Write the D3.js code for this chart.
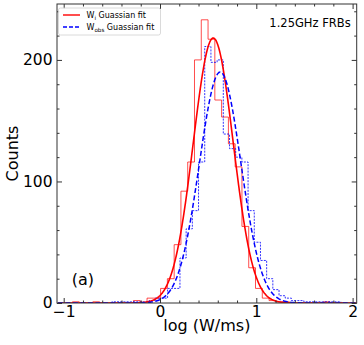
<!DOCTYPE html>
<html>
<head>
<meta charset="utf-8">
<script src="https://cdn.jsdelivr.net/npm/d3@7"></script>
<style>
  body { margin: 0; background: #fff; }
  text { font-family: "DejaVu Sans", sans-serif; fill: #000; }
</style>
</head>
<body>
<svg id="viz" width="364" height="345"></svg>
<script>
// histogram of W_i (red), 40 bins
var redBinStart = -0.909, redBinWidth = 0.0704;
var redCounts = [1, 0, 0, 1, 0, 0, 0, 0, 0, 2,
                 0, 4, 4, 12, 20, 48, 92, 116, 200, 233,
                 217, 167, 153, 131, 112, 63, 29, 12, 4, 2,
                 1, 1, 0, 0, 0, 0, 0, 1, 0, 0];

// histogram of W_obs (blue)
var blueBinStart = -0.5, blueBinWidth = 0.0643;
var blueCounts = [1, 1, 1, 1, 1, 1, 2, 4, 4, 12,
                  12, 37, 61, 76, 116, 211, 198, 200, 139, 127,
                  120, 116, 76, 50, 35, 20, 11, 6, 4, 2,
                  2, 1, 1, 1, 1, 1, 1];

// gaussian fits: [amplitude, mean, sigma]
var redFit = [218, 0.553, 0.207];
var blueFit = [190, 0.625, 0.215];

var xTicks = [-1, 0, 1, 2];
var yTicks = [0, 100, 200];
var legendLabels = [["W", "i", " Guassian fit"], ["W", "obs", " Guassian fit"]];

var svg = d3.select("#viz");
var L = 57, R = 356.7, T = 4, B = 303;

var x = d3.scaleLinear().domain([-1.0696, 2.0426]).range([L, R]);
var y = d3.scaleLinear().domain([0, 246]).range([B, T]);

svg.append("clipPath").attr("id", "clip")
  .append("rect").attr("x", L).attr("y", T).attr("width", R - L).attr("height", B - T);

var plot = svg.append("g").attr("clip-path", "url(#clip)");

function stepPoints(start, width, counts) {
  var pts = [[start, 0]];
  counts.forEach(function(c, i) {
    pts.push([start + i * width, c]);
    pts.push([start + (i + 1) * width, c]);
  });
  pts.push([start + counts.length * width, 0]);
  return pts;
}

function gaussPoints(p) {
  return d3.range(-1.06, 2.04, 0.004).map(function(v) {
    return [v, p[0] * Math.exp(-0.5 * Math.pow((v - p[1]) / p[2], 2))];
  });
}

var line = d3.line().x(function(d) { return x(d[0]); }).y(function(d) { return y(d[1]); });

plot.append("path").datum(stepPoints(redBinStart, redBinWidth, redCounts))
  .attr("d", line).attr("fill", "none")
  .attr("stroke", "#ff0000").attr("stroke-opacity", 0.7).attr("stroke-width", 1);

plot.append("path").datum(stepPoints(blueBinStart, blueBinWidth, blueCounts))
  .attr("d", line).attr("fill", "none")
  .attr("stroke", "#0000ff").attr("stroke-opacity", 0.8).attr("stroke-width", 1)
  .attr("stroke-dasharray", "2,1.2");

plot.append("path").datum(gaussPoints(redFit))
  .attr("d", line).attr("fill", "none")
  .attr("stroke", "#ff0000").attr("stroke-width", 1.6);

plot.append("path").datum(gaussPoints(blueFit))
  .attr("d", line).attr("fill", "none")
  .attr("stroke", "#0000ff").attr("stroke-width", 1.5)
  .attr("stroke-dasharray", "5,2.5");

// axes, ticks inward on all four sides
var xMinor = d3.range(-1, 2.01, 0.2).filter(function(v) { return Math.abs(v - Math.round(v)) > 1e-6; });
var yMinor = d3.range(0, 246, 20).filter(function(v) { return v % 100 !== 0; });

function styleAxis(g) {
  g.select(".domain").remove();
  g.selectAll(".tick line").attr("stroke", "#333");
  g.selectAll("text").style("font-family", "DejaVu Sans").style("font-size", "15.5px").attr("fill", "#000");
}

svg.append("g").attr("transform", "translate(0," + B + ")")
  .call(d3.axisBottom(x).tickValues(xTicks).tickSizeInner(-5).tickPadding(3)
    .tickFormat(function(d) { return d < 0 ? "\u2212" + Math.abs(d) : d; }))
  .call(styleAxis);
svg.append("g").attr("transform", "translate(0," + B + ")")
  .call(d3.axisBottom(x).tickValues(xMinor).tickSizeInner(-2.5).tickFormat(""))
  .call(styleAxis);
svg.append("g").attr("transform", "translate(0," + T + ")")
  .call(d3.axisTop(x).tickValues(xTicks).tickSizeInner(-5).tickFormat(""))
  .call(styleAxis);
svg.append("g").attr("transform", "translate(0," + T + ")")
  .call(d3.axisTop(x).tickValues(xMinor).tickSizeInner(-2.5).tickFormat(""))
  .call(styleAxis);

svg.append("g").attr("transform", "translate(" + L + ",0)")
  .call(d3.axisLeft(y).tickValues(yTicks).tickSizeInner(-5).tickPadding(4.5))
  .call(styleAxis);
svg.append("g").attr("transform", "translate(" + L + ",0)")
  .call(d3.axisLeft(y).tickValues(yMinor).tickSizeInner(-2.5).tickFormat(""))
  .call(styleAxis);
svg.append("g").attr("transform", "translate(" + R + ",0)")
  .call(d3.axisRight(y).tickValues(yTicks).tickSizeInner(-5).tickFormat(""))
  .call(styleAxis);
svg.append("g").attr("transform", "translate(" + R + ",0)")
  .call(d3.axisRight(y).tickValues(yMinor).tickSizeInner(-2.5).tickFormat(""))
  .call(styleAxis);

svg.append("rect").attr("x", L).attr("y", T).attr("width", R - L).attr("height", B - T)
  .attr("fill", "none").attr("stroke", "#333").attr("stroke-width", 1);

// labels
svg.append("text").attr("x", (L + R) / 2).attr("y", 331)
  .attr("text-anchor", "middle").style("font-size", "16px").text("log (W/ms)");
svg.append("text").attr("transform", "translate(18.3," + (T + B) / 2 + ") rotate(-90)")
  .attr("text-anchor", "middle").style("font-size", "16px").text("Counts");
svg.append("text").attr("x", 350.7).attr("y", 27.3)
  .attr("text-anchor", "end").style("font-size", "11.5px").text("1.25GHz FRBs");
svg.append("text").attr("x", 71.7).attr("y", 284.5)
  .style("font-size", "16px").text("(a)");

// legend
var leg = svg.append("g");
leg.append("rect").attr("x", 58.5).attr("y", 8).attr("width", 102).attr("height", 27)
  .attr("rx", 2).attr("fill", "#fff").attr("fill-opacity", 0.85)
  .attr("stroke", "#d0d0d0").attr("stroke-width", 0.8);
var legStyles = [{ color: "#ff0000", dash: null }, { color: "#0000ff", dash: "4,2" }];
legendLabels.forEach(function(lab, i) {
  var yy = 15 + i * 12;
  leg.append("line").attr("x1", 63).attr("x2", 80).attr("y1", yy).attr("y2", yy)
    .attr("stroke", legStyles[i].color).attr("stroke-width", 1.4)
    .attr("stroke-dasharray", legStyles[i].dash);
  var t = leg.append("text").attr("x", 86.5).attr("y", yy + 3).style("font-size", "8px");
  t.append("tspan").text(lab[0]);
  t.append("tspan").attr("dy", 2).style("font-size", "5.6px").text(lab[1]);
  t.append("tspan").attr("dy", -2).text(lab[2]);
});
</script>
</body>
</html>
